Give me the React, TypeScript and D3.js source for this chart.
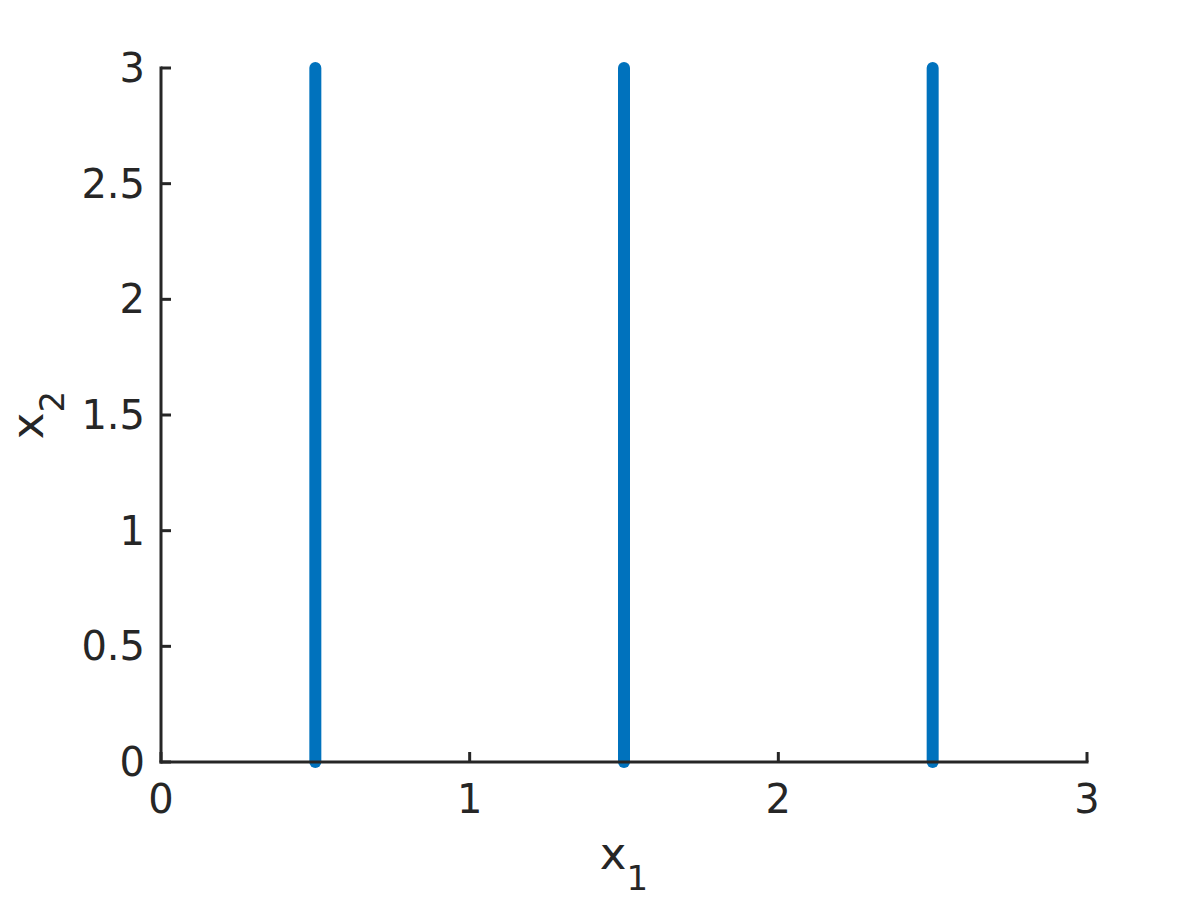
import React from "react";
import * as d3 from "d3";

// x positions of the sampled vertical lines, and their y extent
const lineX = [0.5, 1.5, 2.5];
const lineY = [0, 3];
const xTicks = [0, 1, 2, 3];
const yTicks = [0, 0.5, 1, 1.5, 2, 2.5, 3];

const W = 1200;
const H = 900;
const margin = { top: 68, right: 113, bottom: 138, left: 161 };
const font = "'DejaVu Sans', sans-serif";
const ink = "#262626";

const App = () => {
  const x = d3.scaleLinear().domain([0, 3]).range([margin.left, W - margin.right]);
  const y = d3.scaleLinear().domain([0, 3]).range([H - margin.bottom, margin.top]);
  const line = d3
    .line<number>()
    .x(0)
    .y((d) => y(d));

  const x0 = x(0);
  const y0 = y(0);
  const tickLen = 10;

  return (
    <svg
      width={W}
      height={H}
      style={{ position: "absolute", left: 0, top: 0, background: "#fff" }}
      fontFamily={font}
    >
      {/* data lines */}
      {lineX.map((v) => (
        <path
          key={v}
          d={line(lineY) || ""}
          transform={`translate(${x(v)},0)`}
          stroke="#0072BD"
          strokeWidth={12}
          strokeLinecap="round"
          fill="none"
        />
      ))}

      {/* axes */}
      <g stroke={ink} strokeWidth={3} fill="none">
        <line x1={x0} x2={x(3)} y1={y0} y2={y0} strokeLinecap="square" />
        <line x1={x0} x2={x0} y1={y0} y2={y(3)} strokeLinecap="square" />
        {xTicks.map((t) => (
          <line key={t} x1={x(t)} x2={x(t)} y1={y0} y2={y0 - tickLen} />
        ))}
        {yTicks.map((t) => (
          <line key={t} x1={x0} x2={x0 + tickLen} y1={y(t)} y2={y(t)} />
        ))}
      </g>

      {/* tick labels */}
      <g fill={ink} fontSize={40}>
        {xTicks.map((t) => (
          <text key={t} x={x(t)} y={y0 + 51} textAnchor="middle">
            {d3.format("")(t)}
          </text>
        ))}
        {yTicks.map((t) => (
          <text key={t} x={x0 - 16} y={y(t) + 14} textAnchor="end">
            {d3.format("")(t)}
          </text>
        ))}
      </g>

      {/* axis labels */}
      <text x={(x0 + x(3)) / 2} y={869} textAnchor="middle" fill={ink} fontSize={45}>
        x<tspan fontSize={34} dy={21}>1</tspan>
      </text>
      <text
        transform={`translate(43,415) rotate(-90)`}
        textAnchor="middle"
        fill={ink}
        fontSize={45}
      >
        x<tspan fontSize={34} dy={21}>2</tspan>
      </text>
    </svg>
  );
};

export default App;
